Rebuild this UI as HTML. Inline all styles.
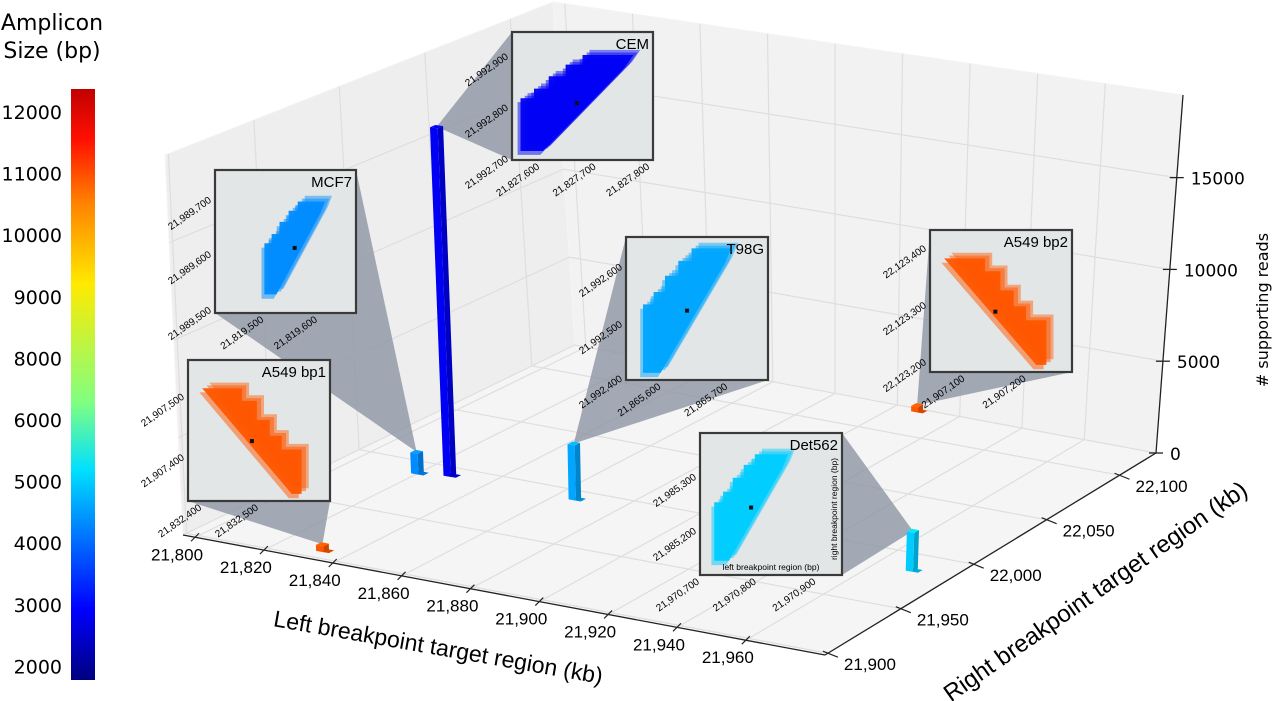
<!DOCTYPE html>
<html><head><meta charset="utf-8"><style>
html,body{margin:0;padding:0;background:#fff;}
svg{display:block;font-family:"Liberation Sans","DejaVu Sans",sans-serif;}
</style></head><body>
<svg id="chart" width="1280" height="701" viewBox="0 0 1280 701" xmlns="http://www.w3.org/2000/svg">
<defs>
<linearGradient id="jet" x1="0" y1="1" x2="0" y2="0">
<stop offset="0" stop-color="#00007f"/><stop offset="0.12" stop-color="#0000ff"/><stop offset="0.355" stop-color="#00e0ff"/><stop offset="0.47" stop-color="#80ff80"/><stop offset="0.67" stop-color="#ffea00"/><stop offset="0.81" stop-color="#ff8000"/><stop offset="0.914" stop-color="#ff1000"/><stop offset="1" stop-color="#c00000"/>
</linearGradient>
</defs>
<g id="box"></g>
<g id="cones"></g>
<g id="bars"></g>
<g id="insets"></g>
<g id="axes"></g>
<g>
<text x="52" y="30" font-size="22" text-anchor="middle" font-family="DejaVu Sans, sans-serif">Amplicon</text>
<text x="52" y="58" font-size="22" text-anchor="middle" font-family="DejaVu Sans, sans-serif">Size (bp)</text>
<rect x="71" y="89" width="24" height="591" fill="url(#jet)"/>
<g id="cbticks"></g>
</g>
<text x="1268" y="310" font-size="16" text-anchor="middle" transform="rotate(-90 1268 310)" font-family="DejaVu Sans, sans-serif"># supporting reads</text>
<text x="437" y="655" font-size="23" text-anchor="middle" transform="rotate(10 437 655)">Left breakpoint target region (kb)</text>
<text x="1100" y="598" font-size="24" text-anchor="middle" transform="rotate(-35 1100 598)">Right breakpoint target region (kb)</text>
</svg>
<script>
const samples = ['CEM','MCF7','A549  bp1','T98G','A549  bp2','Det562'];
const leftKb = [21827.7, 21819.55, 21832.45, 21865.65, 21907.15, 21970.8];
const rightKb = [21992.8, 21989.6, 21907.45, 21992.5, 22123.3, 21985.25];
const reads = [18500, 1100, 300, 2900, 300, 2000];
const ampSize = [3000, 4550, 10100, 4820, 10100, 5210];
const leftTicks = [21800,21820,21840,21860,21880,21900,21920,21940,21960];
const rightTicks = [21900,21950,22000,22050,22100];
const zTicks = [0,5000,10000,15000];
const cbTicks = [12000,11000,10000,9000,8000,6000,5000,4000,3000,2000];

const NS='http://www.w3.org/2000/svg';
const Lmin=21796.5,Lmax=21983,Rmin=21898,Rmax=22125,zMax=19500;
const A=[183,535],B=[825,655],C=[1156,453],D=[575,345];
const H=[380,395,358,343], LEAN=[-18,5,27,-22];
function proj(L,R,z){
  const u=(L-Lmin)/(Lmax-Lmin), v=(R-Rmin)/(Rmax-Rmin);
  const wa=(1-u)*(1-v), wb=u*(1-v), wc=u*v, wd=(1-u)*v;
  let x=A[0]*wa+B[0]*wb+C[0]*wc+D[0]*wd;
  let y=A[1]*wa+B[1]*wb+C[1]*wc+D[1]*wd;
  const h=H[0]*wa+H[1]*wb+H[2]*wc+H[3]*wd;
  const ln=LEAN[0]*wa+LEAN[1]*wb+LEAN[2]*wc+LEAN[3]*wd;
  return [x+ln*z/zMax, y-h*z/zMax];
}
function el(tag,attrs,parent){const e=document.createElementNS(NS,tag);for(const k in attrs)e.setAttribute(k,attrs[k]);parent.appendChild(e);return e;}
function pts(a){return a.map(p=>p[0].toFixed(1)+','+p[1].toFixed(1)).join(' ');}
function jet(val){const t=Math.max(0,Math.min(1,(val-1800)/10500));
  const c=x=>Math.round(255*Math.max(0,Math.min(1,x)));
  return 'rgb('+c(1.5-Math.abs(4*t-3))+','+c(1.5-Math.abs(4*t-2))+','+c(1.5-Math.abs(4*t-1))+')';}
function shade(rgb,f){const m=rgb.match(/\d+/g).map(Number);return 'rgb('+m.map(x=>Math.round(Math.min(255,x*f))).join(',')+')';}

const box=document.getElementById('box');
let e;
e=el('polygon',{points:pts([proj(Lmin,Rmin,0),proj(Lmin,Rmax,0),proj(Lmin,Rmax,zMax),proj(Lmin,Rmin,zMax)]),fill:'#eeeeee',stroke:'#f4f4f4'},box);

e=el('polygon',{points:pts([proj(Lmin,Rmax,0),proj(Lmax,Rmax,0),proj(Lmax,Rmax,zMax),proj(Lmin,Rmax,zMax)]),fill:'#f2f2f2',stroke:'#f4f4f4'},box);

e=el('polygon',{points:pts([proj(Lmin,Rmin,0),proj(Lmax,Rmin,0),proj(Lmax,Rmax,0),proj(Lmin,Rmax,0)]),fill:'#f5f5f5'},box);

const gs={stroke:'#dedede','stroke-width':1.2,fill:'none'};
leftTicks.forEach(L=>{
  e=el('polyline',Object.assign({points:pts([proj(L,Rmin,0),proj(L,Rmax,0),proj(L,Rmax,zMax)])},gs),box);
  
});
rightTicks.forEach(R=>{
  e=el('polyline',Object.assign({points:pts([proj(Lmax,R,0),proj(Lmin,R,0),proj(Lmin,R,zMax)])},gs),box);
  
});
zTicks.forEach(z=>{
  e=el('polyline',Object.assign({points:pts([proj(Lmin,Rmin,z),proj(Lmin,Rmax,z),proj(Lmax,Rmax,z)])},gs),box);
  
});

const ax=document.getElementById('axes');
e=el('line',{x1:proj(Lmin,Rmin,0)[0],y1:proj(Lmin,Rmin,0)[1],x2:proj(Lmax,Rmin,0)[0],y2:proj(Lmax,Rmin,0)[1],stroke:'#222','stroke-width':1.3},ax);

e=el('line',{x1:proj(Lmax,Rmin,0)[0],y1:proj(Lmax,Rmin,0)[1],x2:proj(Lmax,Rmax,0)[0],y2:proj(Lmax,Rmax,0)[1],stroke:'#222','stroke-width':1.3},ax);

e=el('line',{x1:proj(Lmax,Rmax,0)[0],y1:proj(Lmax,Rmax,0)[1],x2:proj(Lmax,Rmax,zMax)[0],y2:proj(Lmax,Rmax,zMax)[1],stroke:'#222','stroke-width':1.3},ax);

leftTicks.forEach(L=>{
  const p=proj(L,Rmin,0);
  e=el('line',{x1:p[0]-4,y1:p[1]+4,x2:p[0]+4,y2:p[1]-4,stroke:'#222','stroke-width':1.2},ax);
  
  e=el('text',{x:p[0]-18,y:p[1]+23,'font-size':17,'text-anchor':'middle'},ax);
  e.textContent=L.toLocaleString('en-US');
  
});
rightTicks.forEach(R=>{
  const p=proj(Lmax,R,0);
  e=el('line',{x1:p[0]-5,y1:p[1]-2,x2:p[0]+10,y2:p[1]+4,stroke:'#222','stroke-width':1.2},ax);
  
  e=el('text',{x:p[0]+42,y:p[1]+17,'font-size':17,'text-anchor':'middle'},ax);
  e.textContent=R.toLocaleString('en-US');
  
});
zTicks.forEach(z=>{
  const p=proj(Lmax,Rmax,z);
  e=el('line',{x1:p[0]-7,y1:p[1],x2:p[0]+7,y2:p[1],stroke:'#222','stroke-width':1.3},ax);
  
  e=el('text',{x:p[0]+14,y:p[1]+7,'font-size':17,'font-family':'DejaVu Sans, sans-serif'},ax);
  e.textContent=String(z);
  
});

const cb=document.getElementById('cbticks');
cbTicks.forEach((v,i)=>{
  e=el('text',{x:62,y:112+i*61.6+7,'font-size':19,'text-anchor':'end','font-family':'DejaVu Sans, sans-serif'},cb);
  e.textContent=String(v);
  
});

const bars=document.getElementById('bars');
const dL=1.1,dR=1.6;
const tops=[];
samples.forEach((s,i)=>{
  const L=leftKb[i],R=rightKb[i],z=reads[i],col=jet(ampSize[i]);
  const g=el('g',{},bars);
  
  
  el('polygon',{points:pts([proj(L-dL,R-dR,0),proj(L+dL+1.5,R-dR,0),proj(L+dL+1.5,R+dR,0),proj(L-dL,R+dR,0)]),fill:shade(col,0.85)},g);
  el('polygon',{points:pts([proj(L+dL,R-dR,0),proj(L+dL,R+dR,0),proj(L+dL,R+dR,z),proj(L+dL,R-dR,z)]),fill:shade(col,0.8)},g);
  el('polygon',{points:pts([proj(L-dL,R-dR,0),proj(L+dL,R-dR,0),proj(L+dL,R-dR,z),proj(L-dL,R-dR,z)]),fill:col},g);
  el('polygon',{points:pts([proj(L-dL,R-dR,z),proj(L+dL,R-dR,z),proj(L+dL,R+dR,z),proj(L-dL,R+dR,z)]),fill:shade(col,1.15)},g);
  tops.push(proj(L,R,z));
});

const insetRects=[[512,32,141,128],[215,170,141,143],[188,360,142,141],[626,237,142,143],[930,230,142,142],[700,433,142,142]];
const insetY=[
 [['21,992,900',.18],['21,992,800',.58],['21,992,700',.98]],
 [['21,989,700',.2],['21,989,600',.58],['21,989,500',.97]],
 [['21,907,500',.25],['21,907,400',.68]],
 [['21,992,600',.2],['21,992,500',.6],['21,992,400',.98]],
 [['22,123,400',.12],['22,123,300',.52],['22,123,200',.92]],
 [['21,985,300',.3],['21,985,200',.68]]];
const insetX=[
 [['21,827,600',.2],['21,827,700',.6],['21,827,800',.98]],
 [['21,819,500',.35],['21,819,600',.73]],
 [['21,832,400',.1],['21,832,500',.5]],
 [['21,865,600',.25],['21,865,700',.72]],
 [['21,907,100',.25],['21,907,200',.68]],
 [['21,970,700',.0],['21,970,800',.4],['21,970,900',.82]]];
const shapeBox=[[.06,.18,.86,.93],[.35,.22,.78,.87],[.1,.2,.8,.95],[.12,.08,.74,.95],[.1,.2,.82,.95],[.1,.15,.62,.9]];
const asc=[[0,1],[0,.45],[.12,.45],[.12,.35],[.25,.35],[.25,.22],[.4,.22],[.4,.1],[.55,.1],[.55,0],[1,0],[.93,.12],[.2,1]];
const desc=[[0,0],[.4,0],[.4,.12],[.55,.12],[.55,.3],[.68,.3],[.68,.45],[.8,.45],[.8,.58],[1,.58],[1,1],[.9,1]];
function hull(P){P=P.slice().sort((a,b)=>a[0]-b[0]||a[1]-b[1]);
  const cr=(o,a,b)=>(a[0]-o[0])*(b[1]-o[1])-(a[1]-o[1])*(b[0]-o[0]);
  const lo=[],up=[];
  for(const p of P){while(lo.length>=2&&cr(lo[lo.length-2],lo[lo.length-1],p)<=0)lo.pop();lo.push(p);}
  for(const p of P.slice().reverse()){while(up.length>=2&&cr(up[up.length-2],up[up.length-1],p)<=0)up.pop();up.push(p);}
  return lo.slice(0,-1).concat(up.slice(0,-1));}
const cones=document.getElementById('cones'),ins=document.getElementById('insets');
samples.forEach((s,i)=>{
  const [x,y,w,h]=insetRects[i], t=tops[i];
  const hp=hull([[x,y],[x+w,y],[x+w,y+h],[x,y+h],t]);
  e=el('polygon',{points:pts(hp),fill:'#8b93a2','fill-opacity':0.78},cones);
  
  
  const g=el('g',{},ins);
  
  
  el('rect',{x:x,y:y,width:w,height:h,fill:'#e2e6e6',stroke:'#3a3a3a','stroke-width':2.2},g);
  const col=jet(ampSize[i]);const sb=shapeBox[i];const base=ampSize[i]>8000?desc:asc;
  const offs=[[.05,-.04,.45],[.03,-.02,.5],[-.02,.03,.5],[0,0,.95]];
  offs.forEach(o=>{
    const P=base.map(p=>[x+w*(sb[0]+o[0]+p[0]*(sb[2]-sb[0])),y+h*(sb[1]+o[1]+p[1]*(sb[3]-sb[1]))]);
    el('polygon',{points:pts(P),fill:col,'fill-opacity':o[2]},g);
  });
  el('rect',{x:x+w*(sb[0]+sb[2])/2-2,y:y+h*(sb[1]+sb[3])/2-2,width:4,height:4,fill:'#111'},g);
  e=el('text',{x:x+w-4,y:y+17,'font-size':15,'text-anchor':'end'},g);
  e.textContent=s;
  
  insetY[i].forEach(tk=>{const tx=x-3,ty=y+h*tk[1]+3;
    e=el('text',{x:tx,y:ty,'font-size':10,'text-anchor':'end',transform:'rotate(-35 '+tx+' '+ty+')'},g);
    e.textContent=tk[0];});
  insetX[i].forEach(tk=>{const tx=x+w*tk[1],ty=y+h+8;
    e=el('text',{x:tx,y:ty,'font-size':10,'text-anchor':'end',transform:'rotate(-35 '+tx+' '+ty+')'},g);
    e.textContent=tk[0];});
  if(s==='Det562'){
    e=el('text',{x:x+w/2,y:y+h-5,'font-size':8.5,'text-anchor':'middle'},g);
    e.textContent='left breakpoint region (bp)';
    const tx=x+w-5,ty=y+h/2+5;
    e=el('text',{x:tx,y:ty,'font-size':8.5,'text-anchor':'middle',transform:'rotate(-90 '+tx+' '+ty+')'},g);
    e.textContent='right breakpoint region (bp)';
  }
});
</script>
</body></html>
